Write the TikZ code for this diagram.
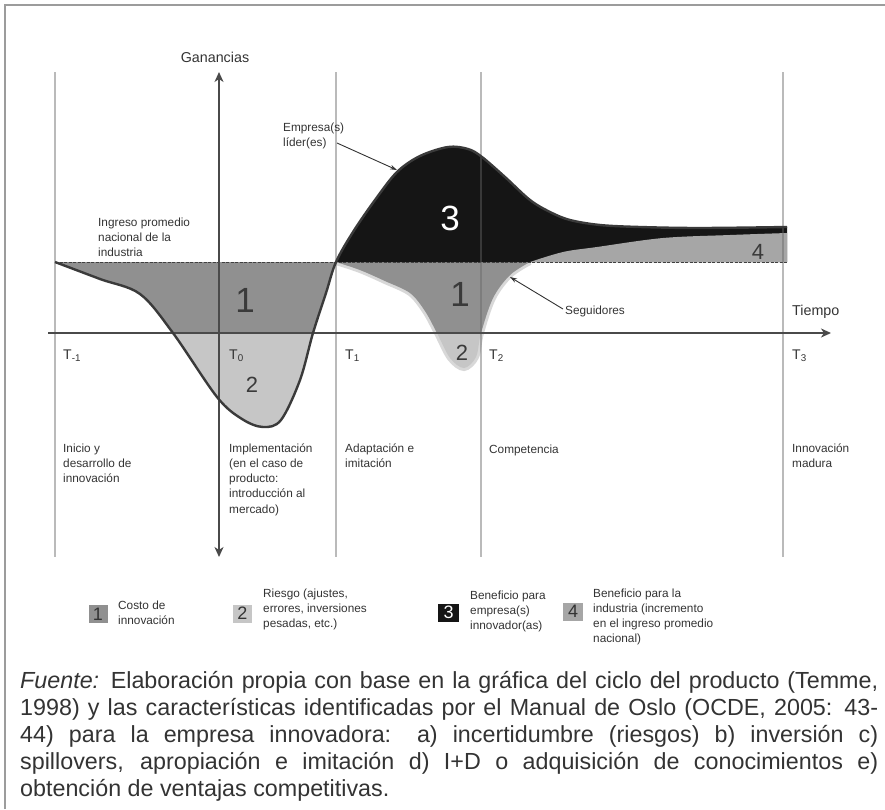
\documentclass[tikz,border=0pt]{standalone}
\usepackage{fontspec}
\setmainfont{Liberation Sans}
\usetikzlibrary{arrows.meta}

\definecolor{costo}{HTML}{909090}
\definecolor{riesgo}{HTML}{C6C6C6}
\definecolor{benef}{HTML}{151515}
\definecolor{indus}{HTML}{A6A6A6}
\definecolor{halo}{HTML}{D8D8D8}
\definecolor{curva}{HTML}{3A3A3A}
\definecolor{eje}{HTML}{4A4A4A}
\definecolor{marco}{HTML}{9C9C9C}
\definecolor{texto}{HTML}{333333}

% multi-line labels are placed by the baseline of their last line
\tikzset{
  lbl/.style={font=\fontsize{11.8}{15.3}\selectfont, text=texto, inner sep=0pt, anchor=base west, align=left},
  bignum/.style={font=\fontsize{35}{35}\selectfont, text=curva, inner sep=0pt},
  midnum/.style={font=\fontsize{22}{22}\selectfont, text=curva, inner sep=0pt},
  tlbl/.style={font=\fontsize{14}{14}\selectfont, text=texto, inner sep=0pt, anchor=base west},
  axislbl/.style={font=\fontsize{14.3}{14.3}\selectfont, text=texto, inner sep=0pt},
  axis/.style={draw=eje, line width=1.7pt},
  guide/.style={draw=black!60, opacity=0.45, line width=1.3pt},
  avgline/.style={draw=black!75, line width=0.8pt, dash pattern=on 3pt off 1.5pt},
  keybox/.style={minimum width=19pt, minimum height=18pt, inner sep=0pt, font=\fontsize{18}{18}\selectfont, text=texto},
  leader/.style={draw=texto, line width=0.9pt, -{Stealth[length=7pt,width=4.5pt]}},
  axtip/.tip={Stealth[length=10pt,width=9pt,inset=3pt]},
}

% profit curve of the innovating firm: dip (cost and risk) and rise (benefit)
\newcommand\curveML{plot[smooth,tension=0.55] coordinates {(55,262) (100,279) (140,294) (173,333) (217,397) (242,419) (263,427) (281,420) (300,380) (313,333) (326,293) (336,262)}}
\newcommand\curveMR{plot[smooth,tension=0.55] coordinates {(336,262) (353,232) (375,200) (397,172) (420,156) (448,147) (468,149) (482,157) (505,177) (530,200) (550,212) (570,220) (600,225) (640,227) (700,228) (787,227)}}
% profit curve of the followers
\newcommand\curveFL{plot[smooth,tension=0.55] coordinates {(336,262) (360,270) (385,281) (410,293) (425,311) (437,333) (450,358) (464,368) (476,357) (481,333) (493,298) (510,275) (530,262)}}
\newcommand\curveFR{plot[smooth,tension=0.55] coordinates {(530,262) (563,252) (597,247) (663,238) (730,235) (787,233)}}

\begin{document}
\begin{tikzpicture}[x=1pt,y=-1pt]
\useasboundingbox (0,0) rectangle (885,809);

% outer frame
\draw[marco, line width=2pt] (5,809) -- (5,5) -- (885,5);

% light halo of the followers' curve
\draw[halo, line width=6pt] \curveFL;

% areas 2 (risk) and 1 (cost) of the innovating firm
\fill[riesgo] \curveML -- cycle;
\begin{scope}
  \clip (0,0) rectangle (885,333);
  \fill[costo] \curveML -- cycle;
\end{scope}

% areas 2 and 1 of the followers
\fill[riesgo] \curveFL -- cycle;
\begin{scope}
  \clip (0,0) rectangle (885,333);
  \fill[costo] \curveFL -- cycle;
\end{scope}

% area 3: benefit of the leading firm(s)
\fill[benef] \curveMR -- (787,262) -- cycle;
% area 4: benefit for the industry
\fill[indus] \curveFR -- (787,262) -- cycle;

% national average income of the industry
\coordinate (avgL) at (55,262);
\coordinate (avgR) at (787,262);
\draw[avgline] (avgL) -- (avgR);

% phase boundaries T-1 ... T3
\foreach \gx/\gn in {55/a, 336/b, 481/c, 783/d}{
  \coordinate (g\gn top) at (\gx,72);
  \coordinate (g\gn bot) at (\gx,557);
  \draw[guide] (g\gn top) -- (g\gn bot);
}

% axes
\coordinate (tstart) at (48,333);
\coordinate (tend) at (831,333);
\draw[axis, -{axtip}] (tstart) -- (tend);
\coordinate (gbot) at (219,557);
\coordinate (gtop) at (219,72);
\draw[axis, {axtip}-{axtip}] (gbot) -- (gtop);

% curve of the innovating firm
\draw[curva, line width=2.4pt, line join=round] plot[smooth,tension=0.55] coordinates {(55,262) (100,279) (140,294) (173,333) (217,397) (242,419) (263,427) (281,420) (300,380) (313,333) (326,293) (336,262) (353,232) (375,200) (397,172) (420,156) (448,147) (468,149) (482,157) (505,177) (530,200) (550,212) (570,220) (600,225) (640,227) (700,228) (787,227)};

% axis titles
\node[axislbl, anchor=base] (ganancias) at (215,62) {Ganancias};
\node[axislbl, anchor=base west] (tiempo) at (792,315) {Tiempo};

% time marks
\node[tlbl] (Tm1) at (63,359) {T\textsubscript{-1}};
\node[tlbl] (T0) at (229,359) {T\textsubscript{0}};
\node[tlbl] (T1) at (345,359) {T\textsubscript{1}};
\node[tlbl] (T2) at (489,359) {T\textsubscript{2}};
\node[tlbl] (T3) at (792,359) {T\textsubscript{3}};

% phases
\node[lbl] (fase1) at (63,482.6) {Inicio y\\desarrollo de\\innovación};
\node[lbl] (fase2) at (229,513.2) {Implementación\\(en el caso de\\producto:\\introducción al\\mercado)};
\node[lbl] (fase3) at (345,467.3) {Adaptación e\\imitación};
\node[lbl] (fase4) at (489,453) {Competencia};
\node[lbl] (fase5) at (792,467.3) {Innovación\\madura};

% curve labels
\node[lbl] (ingreso) at (98,256.6) {Ingreso promedio\\nacional de la\\industria};
\node[lbl] (lider) at (283,146.3) {Empresa(s)\\líder(es)};
\coordinate (liderfrom) at (337,143);
\coordinate (liderto) at (397,170);
\draw[leader] (liderfrom) -- (liderto);
\node[lbl] (seguidores) at (565,314) {Seguidores};
\coordinate (segfrom) at (563,309);
\coordinate (segto) at (510,277);
\draw[leader] (segfrom) -- (segto);

% area numbers
\node[bignum] (n1a) at (245,300) {1};
\node[midnum] (n2a) at (252,385) {2};
\node[bignum, text=white] (n3) at (450,218) {3};
\node[bignum] (n1b) at (460,294) {1};
\node[midnum] (n2b) at (462,353) {2};
\node[midnum] (n4) at (758,252) {4};

% key
\node[keybox, fill=costo] (k1) at (98,614) {1};
\node[lbl] (k1t) at (118,624.3) {Costo de\\innovación};
\node[keybox, fill=riesgo] (k2) at (242.5,613.5) {2};
\node[lbl] (k2t) at (263,627.6) {Riesgo (ajustes,\\errores, inversiones\\pesadas, etc.)};
\node[keybox, fill=benef, text=white, minimum width=21pt] (k3) at (448.5,612.5) {3};
\node[lbl] (k3t) at (470,629.6) {Beneficio para\\empresa(s)\\innovador(as)};
\node[keybox, fill=indus, minimum width=20pt] (k4) at (573,611.5) {4};
\node[lbl] (k4t) at (593,642.9) {Beneficio para la\\industria (incremento\\en el ingreso promedio\\nacional)};

% source note
\node[inner sep=0pt, anchor=base west, text width=858pt, align=justify, text=black!80,
      font=\fontsize{23.3}{27}\selectfont] (fuente) at (20,688)
{\hyphenpenalty=10000 \textit{Fuente:} Elaboración propia con base en la gráfica del ciclo del producto (Temme,\linebreak
1998) y las características identificadas por el Manual de Oslo (OCDE, 2005: 43-\linebreak
44) para la empresa innovadora: a) incertidumbre (riesgos) b) inversión c)\linebreak
spillovers, apropiación e imitación d) I+D o adquisición de conocimientos e)\linebreak
obtención de ventajas competitivas.};
\end{tikzpicture}
\end{document}
